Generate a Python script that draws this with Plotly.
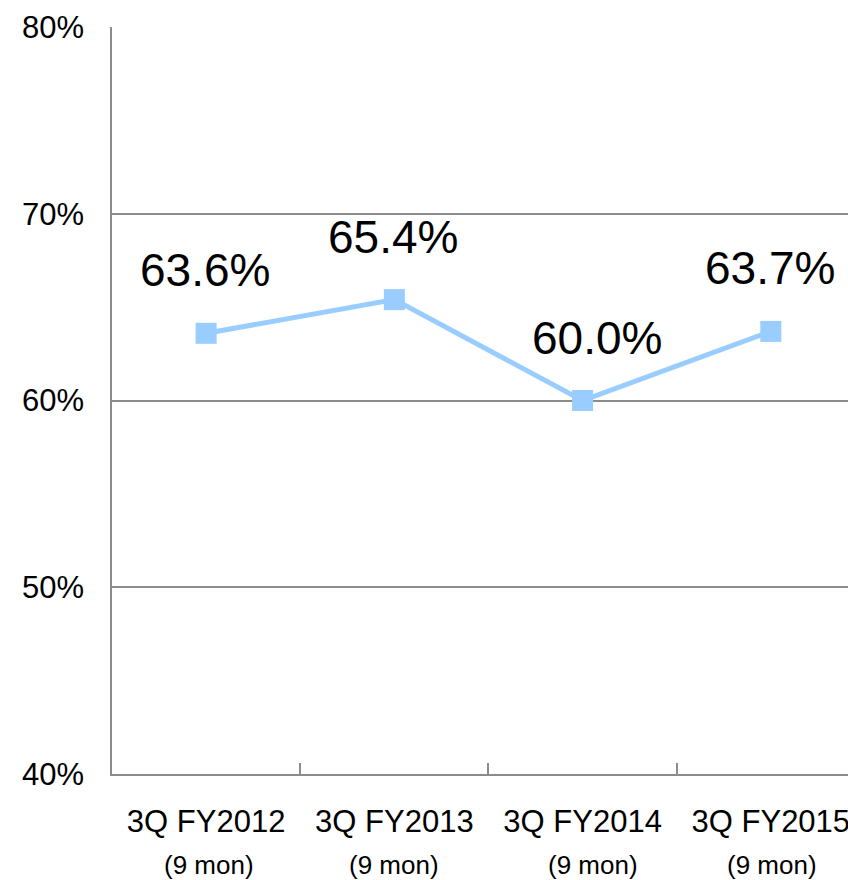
import plotly.graph_objects as go

categories = ["3Q FY2012", "3Q FY2013", "3Q FY2014", "3Q FY2015"]
sub_labels = ["(9 mon)", "(9 mon)", "(9 mon)", "(9 mon)"]
values = [63.6, 65.4, 60.0, 63.7]
y_ticks = [40, 50, 60, 70, 80]
y_tick_labels = ["40%", "50%", "60%", "70%", "80%"]

FONT = "Liberation Sans, Arial, sans-serif"
GRID = "#8c8c8c"

fig = go.Figure()
fig.add_trace(go.Scatter(
    x=categories, y=values, mode="lines+markers",
    line=dict(color="#99ccff", width=5),
    marker=dict(symbol="square", size=21, color="#99ccff"),
    hoverinfo="skip", showlegend=False,
))

label_xshift = [-1, -1, 14, -1]
for c, v, dx in zip(categories, values, label_xshift):
    fig.add_annotation(x=c, y=v, xref="x", yref="y", text=f"{v:.1f}%",
                       showarrow=False, yshift=63, xshift=dx,
                       font=dict(family=FONT, size=46, color="black"))

sub_xshift = [3, 0, 10, 1]
for c, s, dx in zip(categories, sub_labels, sub_xshift):
    fig.add_annotation(x=c, y=0, xref="x", yref="paper", text=s,
                       showarrow=False, yshift=-91, xshift=dx,
                       yanchor="middle",
                       font=dict(family=FONT, size=26, color="black"))

fig.update_layout(
    width=848, height=880,
    margin=dict(l=112, r=0, t=27, b=106),
    paper_bgcolor="white", plot_bgcolor="white",
    font=dict(family=FONT, color="black"),
    xaxis=dict(
        type="category", range=[-0.5, 3.41],
        showline=True, linecolor=GRID, linewidth=1.5,
        ticks="inside", tickson="boundaries", ticklen=11, tickcolor=GRID, tickwidth=1.5,
        showgrid=False, automargin=False,
        tickfont=dict(family=FONT, size=31, color="black"),
        ticklabelstandoff=19,
    ),
    yaxis=dict(
        range=[40, 80], tickvals=y_ticks, ticktext=y_tick_labels,
        showline=True, linecolor=GRID, linewidth=1.5,
        showgrid=True, gridcolor=GRID, gridwidth=1.5,
        ticks="", zeroline=False, automargin=False,
        tickfont=dict(family=FONT, size=31, color="black"),
        ticklabelstandoff=20,
    ),
)

fig.write_html(
    "out.html",
    config={"displayModeBar": False},
    post_script="document.body.style.margin='0';document.body.style.overflow='hidden';",
)
